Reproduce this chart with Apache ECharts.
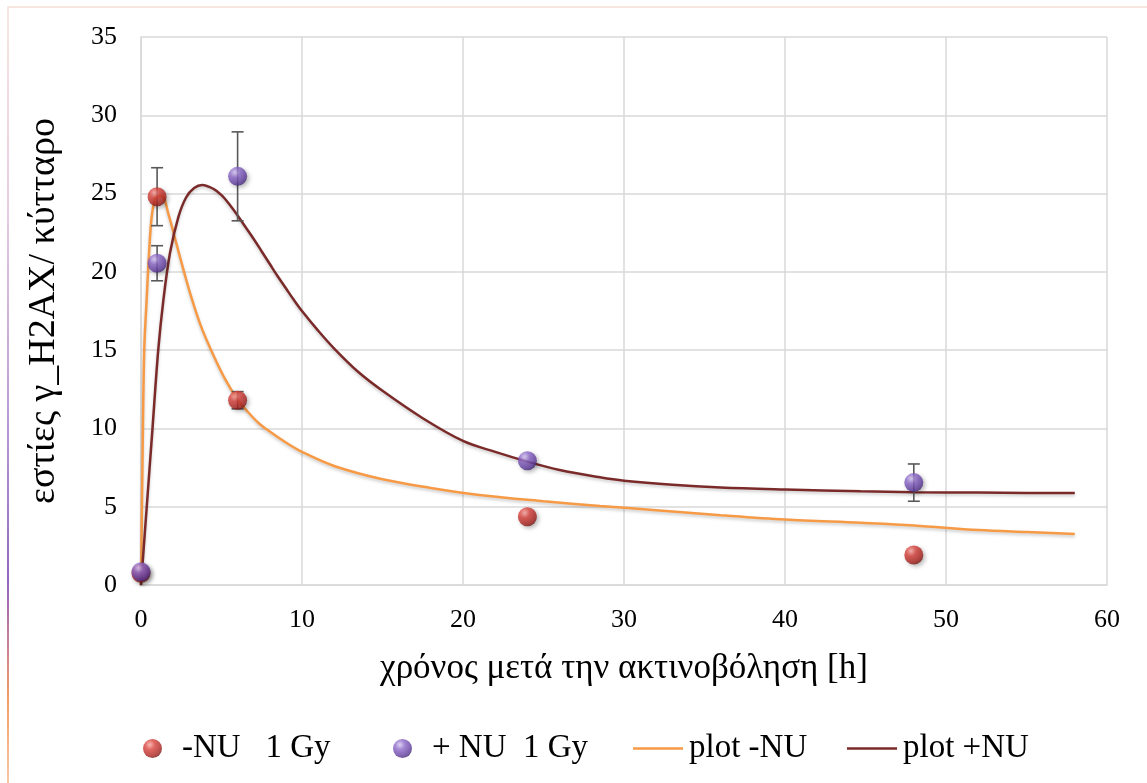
<!DOCTYPE html>
<html>
<head>
<meta charset="utf-8">
<script src="https://cdn.jsdelivr.net/npm/echarts@6/dist/echarts.min.js"></script>
<style>
  html, body { margin: 0; padding: 0; background: #ffffff; }
  #chart { width: 1147px; height: 783px; }
</style>
</head>
<body>
<div id="chart"></div>
<script>
// Measurement times (h) and foci per cell
const times = [0, 1, 6, 24, 48];
const minusNU = [0.75, 24.8, 11.8, 4.36, 1.92];
const minusNUErr = [0, 1.85, 0.55, 0, 0];
const plusNU = [0.85, 20.55, 26.1, 7.94, 6.54];
const plusNUErr = [0, 1.12, 2.84, 0, 1.19];

// Fitted model curves, sampled as [time, foci]
const fitMinusX = [0, 0.1, 0.2, 0.35, 0.5, 0.66, 0.85, 1.0, 1.3, 1.7, 2.2, 2.7, 3.15, 3.7, 4.4, 5.2, 6.0, 6.6, 7.3, 8.0, 9.0, 10, 12, 15, 18, 21, 25, 28.5, 32, 36, 40, 44.7, 48, 52, 55, 58];
const fitMinusY = [0, 8.5, 15.0, 18.2, 21.2, 23.5, 24.6, 24.85, 24.85, 23.7, 21.8, 19.9, 18.3, 16.6, 14.9, 13.2, 11.85, 11.1, 10.35, 9.8, 9.1, 8.5, 7.6, 6.75, 6.2, 5.75, 5.35, 5.05, 4.78, 4.46, 4.18, 3.97, 3.8, 3.51, 3.38, 3.26];
const fitPlusX = [0, 0.4, 0.7, 1.07, 1.39, 1.8, 2.32, 2.8, 3.3, 3.8, 4.5, 5.0, 5.5, 6.0, 6.5, 7.0, 7.5, 8.0, 8.5, 9.0, 9.5, 10, 11, 12, 13.5, 15, 17.5, 20, 22, 24, 26, 28.5, 30, 33, 36, 40, 44.7, 48, 52, 55, 58];
const fitPlusY = [0, 5.6, 9.8, 15.0, 18.2, 21.2, 23.5, 24.75, 25.35, 25.55, 25.3, 24.9, 24.3, 23.6, 22.85, 22.1, 21.3, 20.5, 19.7, 18.95, 18.2, 17.5, 16.25, 15.1, 13.6, 12.4, 10.65, 9.2, 8.5, 7.88, 7.35, 6.88, 6.66, 6.4, 6.23, 6.1, 5.98, 5.93, 5.9, 5.88, 5.87];

const nameMinus = '-NU   1 Gy';
const namePlus = '+ NU  1 Gy';
const nameFitMinus = 'plot -NU';
const nameFitPlus = 'plot +NU';

const FONT = 'Liberation Serif';

function sphere(light, mid, dark, edge) {
  return {
    type: 'radial', x: 0.36, y: 0.3, r: 0.75,
    colorStops: [
      { offset: 0, color: light },
      { offset: 0.35, color: mid },
      { offset: 0.8, color: dark },
      { offset: 1, color: edge }
    ]
  };
}
const redFill = sphere('#f7a6a0', '#d9403a', '#a8231f', '#701512');
const purpleFill = sphere('#d6c6f2', '#8c68c9', '#603c9c', '#3f2570');

function pairs(xs, ys) { return xs.map((x, i) => [x, ys[i]]); }

function errorBars(ys, errs) {
  return times.map((t, i) => [t, ys[i], errs[i]]).filter(d => d[2] > 0);
}

function renderError(params, api) {
  const x = api.value(0), y = api.value(1), e = api.value(2);
  const top = api.coord([x, y + e]);
  const bot = api.coord([x, y - e]);
  const cap = 6;
  const style = { stroke: '#595959', lineWidth: 1.6 };
  return {
    type: 'group',
    children: [
      { type: 'line', shape: { x1: top[0], y1: top[1], x2: bot[0], y2: bot[1] }, style },
      { type: 'line', shape: { x1: top[0] - cap, y1: top[1], x2: top[0] + cap, y2: top[1] }, style },
      { type: 'line', shape: { x1: bot[0] - cap, y1: bot[1], x2: bot[0] + cap, y2: bot[1] }, style }
    ]
  };
}

const sphereShadow = {
  shadowBlur: 4, shadowColor: 'rgba(0,0,0,0.35)', shadowOffsetX: 2, shadowOffsetY: 2
};

// One legend block per entry so each entry sits at its own spot
function legendEntry(name, left, opts) {
  return Object.assign({
    data: [name],
    left: left, top: 727,
    itemWidth: 19, itemHeight: 19,
    textStyle: { fontFamily: FONT, fontSize: 33, color: '#000', padding: [0, 0, 0, 15] }
  }, opts || {});
}

const chart = echarts.init(document.getElementById('chart'), null, { renderer: 'canvas' });

chart.setOption({
  backgroundColor: '#ffffff',
  animation: false,
  textStyle: { fontFamily: FONT, color: '#000' },
  graphic: [{
    type: 'rect',
    shape: { x: 8, y: 7, width: 1160, height: 800 },
    style: {
      fill: 'none',
      lineWidth: 1.5,
      stroke: {
        type: 'linear', x: 0, y: 0, x2: 0, y2: 1, global: false,
        colorStops: [
          { offset: 0, color: '#f6e0d6' },
          { offset: 0.25, color: '#dcbcd8' },
          { offset: 0.5, color: '#a57ec6' },
          { offset: 0.72, color: '#7233a6' },
          { offset: 0.8, color: '#b85a70' },
          { offset: 0.86, color: '#ed7d31' },
          { offset: 1, color: '#f8c8a6' }
        ]
      }
    },
    z: -1
  }],
  grid: { left: 141, right: 40, top: 37, bottom: 198, containLabel: false },
  xAxis: {
    type: 'value', min: 0, max: 60, interval: 10,
    name: 'χρόνος μετά την ακτινοβόληση [h]',
    nameLocation: 'middle', nameGap: 66,
    nameTextStyle: { fontFamily: FONT, fontSize: 35, color: '#000' },
    axisLine: { show: true, lineStyle: { color: '#d9d9d9', width: 1.5 } },
    axisTick: { show: false },
    axisLabel: { fontFamily: FONT, fontSize: 26, color: '#000', margin: 22 },
    splitLine: { show: true, lineStyle: { color: '#d9d9d9', width: 1.5 } }
  },
  yAxis: {
    type: 'value', min: 0, max: 35, interval: 5,
    name: 'εστίες γ_H2AX/ κύτταρο',
    nameLocation: 'middle', nameGap: 78, nameRotate: 90,
    nameTextStyle: { fontFamily: FONT, fontSize: 38, color: '#000' },
    axisLine: { show: true, lineStyle: { color: '#d9d9d9', width: 1.5 } },
    axisTick: { show: false },
    axisLabel: { fontFamily: FONT, fontSize: 26, color: '#000', margin: 24 },
    splitLine: { show: true, lineStyle: { color: '#d9d9d9', width: 1.5 } }
  },
  legend: [
    legendEntry(nameMinus, 138, { icon: 'circle' }),
    legendEntry(namePlus, 388, { icon: 'circle' }),
    legendEntry({ name: nameFitMinus, icon: 'rect' }, 628, {
      itemWidth: 50, itemHeight: 2.5,
      textStyle: { fontFamily: FONT, fontSize: 33, color: '#000', padding: [0, 0, 0, 1] }
    }),
    legendEntry({ name: nameFitPlus, icon: 'rect' }, 842, {
      itemWidth: 50, itemHeight: 2.5,
      textStyle: { fontFamily: FONT, fontSize: 33, color: '#000', padding: [0, 0, 0, 1] }
    })
  ],
  series: [
    {
      name: nameFitMinus, type: 'line', data: pairs(fitMinusX, fitMinusY),
      smooth: 0.35, showSymbol: false, symbol: 'none',
      lineStyle: { color: '#f79a46', width: 2.5, shadowBlur: 3, shadowColor: 'rgba(0,0,0,0.2)', shadowOffsetY: 2 },
      itemStyle: { color: '#f79a46' },
      z: 2
    },
    {
      name: nameFitPlus, type: 'line', data: pairs(fitPlusX, fitPlusY),
      smooth: 0.35, showSymbol: false, symbol: 'none',
      lineStyle: { color: '#7b2a2a', width: 2.5, shadowBlur: 3, shadowColor: 'rgba(0,0,0,0.2)', shadowOffsetY: 2 },
      itemStyle: { color: '#7b2a2a' },
      z: 2
    },
    {
      type: 'custom', renderItem: renderError, data: errorBars(minusNU, minusNUErr),
      z: 3, silent: true
    },
    {
      type: 'custom', renderItem: renderError, data: errorBars(plusNU, plusNUErr),
      z: 3, silent: true
    },
    {
      name: nameMinus, type: 'scatter', data: pairs(times, minusNU),
      symbol: 'circle', symbolSize: 19,
      itemStyle: Object.assign({ color: redFill }, sphereShadow),
      z: 4
    },
    {
      name: namePlus, type: 'scatter', data: pairs(times, plusNU),
      symbol: 'circle', symbolSize: 19,
      itemStyle: Object.assign({ color: purpleFill }, sphereShadow),
      z: 5
    }
  ]
});
</script>
</body>
</html>
